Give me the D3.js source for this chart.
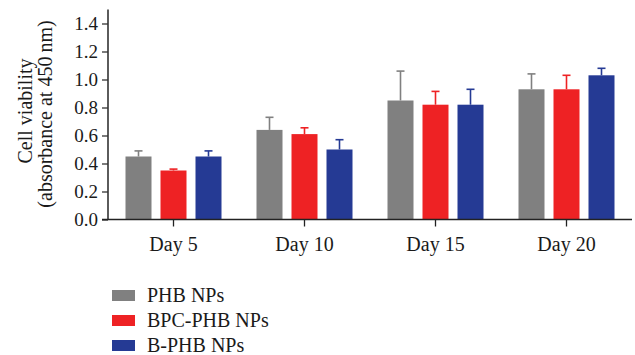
<!DOCTYPE html>
<html>
<head>
<meta charset="utf-8">
<script src="https://cdn.jsdelivr.net/npm/d3@7"></script>
<style>
  body { margin: 0; background: #fff; }
  text { font-family: "Liberation Serif", "DejaVu Serif", serif; fill: #1a1a1a; }
</style>
</head>
<body>
<div id="chart"></div>
<script>
// data
var days = ["Day 5", "Day 10", "Day 15", "Day 20"];
var seriesNames = ["PHB NPs", "BPC-PHB NPs", "B-PHB NPs"];
var seriesColors = ["#808080", "#ee2224", "#253a94"];
var phbMean   = [0.45, 0.64, 0.85, 0.93];
var phbErr    = [0.04, 0.09, 0.21, 0.11];
var bpcMean   = [0.35, 0.61, 0.82, 0.93];
var bpcErr    = [0.01, 0.045, 0.095, 0.10];
var bphbMean  = [0.45, 0.50, 0.82, 1.03];
var bphbErr   = [0.04, 0.07, 0.11, 0.05];
var yTicks = [0.0, 0.2, 0.4, 0.6, 0.8, 1.0, 1.2, 1.4];

var means = [phbMean, bpcMean, bphbMean];
var errs = [phbErr, bpcErr, bphbErr];

var w = 635, h = 355;
var plotLeft = 108, plotRight = 632, plotTop = 9.5, plotBottom = 219.5; // "top" is taken by window.top

var svg = d3.select("#chart").append("svg")
    .attr("width", w)
    .attr("height", h);

var x = d3.scaleBand().domain(days).range([plotLeft, plotRight]); // one band per day
var y = d3.scaleLinear().domain([0, 1.5]).range([plotBottom, plotTop]);

var barW = 26;
var offset = 35; // distance between bar centers in a group

// flatten into rows for drawing
var rows = [];
days.forEach(function(d, i) {
    seriesNames.forEach(function(s, j) {
        rows.push({ day: d, s: j, v: means[j][i], e: errs[j][i] });
    });
});

function cx(d) { return x(d.day) + x.bandwidth() / 2 + (d.s - 1) * offset; }

// error bars (drawn first so bar covers the lower half)
var eb = svg.append("g");
eb.selectAll("line.stem")
    .data(rows).enter().append("line")
    .attr("x1", cx).attr("x2", cx)
    .attr("y1", d => y(d.v)).attr("y2", d => y(d.v + d.e))
    .attr("stroke", d => seriesColors[d.s])
    .attr("stroke-width", 1.6);
eb.selectAll("line.cap")
    .data(rows).enter().append("line")
    .attr("x1", d => cx(d) - 4).attr("x2", d => cx(d) + 4)
    .attr("y1", d => y(d.v + d.e)).attr("y2", d => y(d.v + d.e))
    .attr("stroke", d => seriesColors[d.s])
    .attr("stroke-width", 1.6);

svg.append("g").selectAll("rect")
    .data(rows).enter().append("rect")
    .attr("x", d => cx(d) - barW / 2)
    .attr("y", d => y(d.v))
    .attr("width", barW)
    .attr("height", d => y(0) - y(d.v))
    .attr("fill", d => seriesColors[d.s]);

// y axis
var yAxis = svg.append("g")
    .attr("transform", "translate(" + plotLeft + ",0)")
    .call(d3.axisLeft(y).tickValues(yTicks).tickFormat(d3.format(".1f")).tickSize(6).tickSizeOuter(0));
yAxis.select(".domain").attr("d", "M0," + plotTop + "V" + plotBottom).attr("stroke", "#333").attr("stroke-width", 1.6);
yAxis.selectAll(".tick line").attr("stroke", "#333").attr("stroke-width", 1.3);
yAxis.selectAll(".tick text").attr("x", -10).style("font-size", "19px").style("font-family", "Liberation Serif").attr("fill", "#1a1a1a");

// x axis
var xAxis = svg.append("g")
    .attr("transform", "translate(0," + plotBottom + ")")
    .call(d3.axisBottom(x).tickSize(7).tickSizeOuter(0));
xAxis.select(".domain").attr("d", "M" + (plotLeft - 6) + ",0H" + plotRight).attr("stroke", "#222").attr("stroke-width", 1.6);
xAxis.selectAll(".tick line").attr("stroke", "#222").attr("stroke-width", 1.3);
xAxis.selectAll(".tick text").attr("y", 17).style("font-size", "20px").style("font-family", "Liberation Serif").attr("fill", "#1a1a1a");

// y title, two lines
svg.append("text")
    .attr("transform", "translate(32,111) rotate(-90)")
    .attr("text-anchor", "middle")
    .style("font-size", "20px")
    .text("Cell viability");
svg.append("text")
    .attr("transform", "translate(52,114) rotate(-90)")
    .attr("text-anchor", "middle")
    .style("font-size", "20px")
    .text("(absorbance at 450\u2009nm)");

// legend
var legend = svg.append("g").attr("transform", "translate(112,290)");
var lg = legend.selectAll("g").data(seriesNames).enter().append("g")
    .attr("transform", (d, i) => "translate(0," + (i * 25) + ")");
lg.append("rect")
    .attr("width", 23).attr("height", 11)
    .attr("fill", (d, i) => seriesColors[i]);
lg.append("text")
    .attr("x", 35).attr("y", 12)
    .style("font-size", "20px")
    .text(d => d);
</script>
</body>
</html>
